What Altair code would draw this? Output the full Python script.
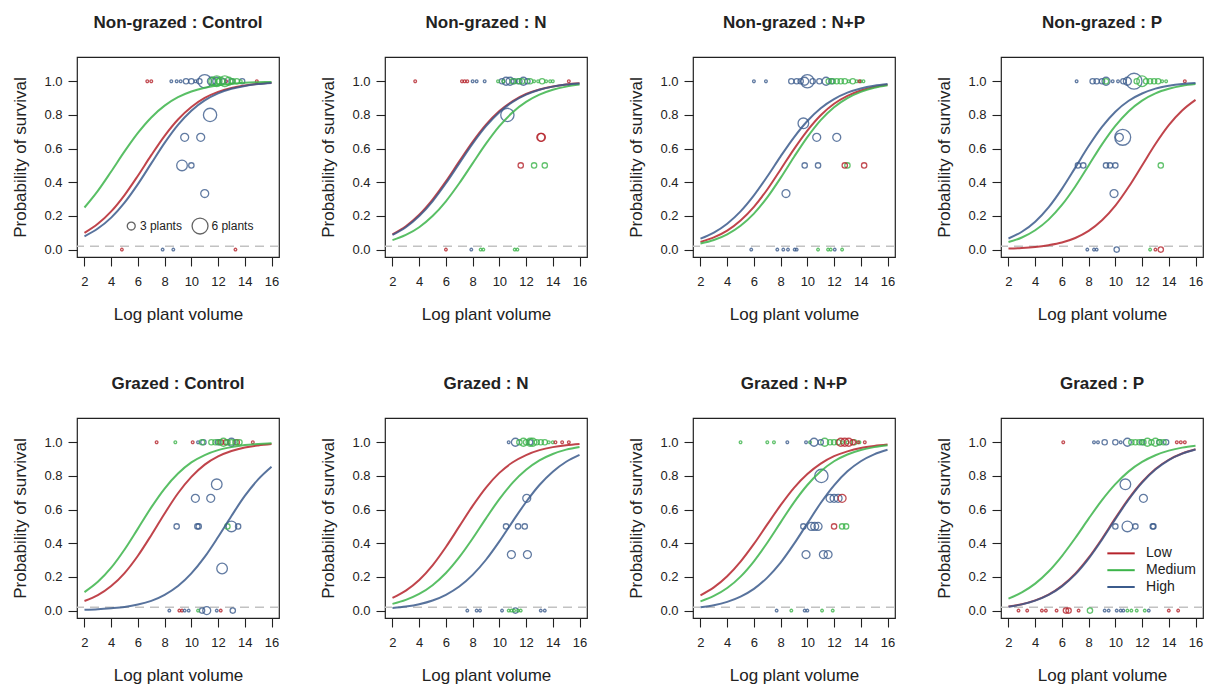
import altair as alt

# x positions at which each fitted survival curve is tabulated
CURVE_X = list(range(2, 17))
X_TICKS = [2, 4, 6, 8, 10, 12, 14, 16]
Y_TICKS = [0.0, 0.2, 0.4, 0.6, 0.8, 1.0]

GROUPS = ["Low", "Medium", "High"]
COLORS = ["#b5232b", "#3cb44a", "#3b5b8c"]
GROUP_CODE = {"L": "Low", "M": "Medium", "H": "High"}

PANELS = [
    "Non-grazed : Control", "Non-grazed : N", "Non-grazed : N+P", "Non-grazed : P",
    "Grazed : Control", "Grazed : N", "Grazed : N+P", "Grazed : P",
]

# fitted probability of survival at each CURVE_X value
CURVES = {
    "Non-grazed : Control": {
        "Low":    [0.099, 0.153, 0.227, 0.324, 0.439, 0.561, 0.676, 0.773, 0.847, 0.901, 0.937, 0.960, 0.975, 0.985, 0.991],
        "Medium": [0.250, 0.349, 0.464, 0.583, 0.693, 0.785, 0.855, 0.905, 0.939, 0.961, 0.976, 0.985, 0.991, 0.994, 0.996],
        "High":   [0.079, 0.125, 0.190, 0.279, 0.389, 0.512, 0.634, 0.741, 0.825, 0.886, 0.928, 0.955, 0.972, 0.983, 0.990],
    },
    "Non-grazed : N": {
        "Low":    [0.091, 0.139, 0.207, 0.297, 0.405, 0.524, 0.640, 0.742, 0.823, 0.882, 0.924, 0.951, 0.969, 0.981, 0.988],
        "Medium": [0.056, 0.087, 0.133, 0.199, 0.287, 0.394, 0.512, 0.629, 0.733, 0.816, 0.877, 0.920, 0.949, 0.968, 0.980],
        "High":   [0.087, 0.133, 0.199, 0.287, 0.394, 0.512, 0.629, 0.733, 0.816, 0.877, 0.920, 0.949, 0.968, 0.980, 0.987],
    },
    "Non-grazed : N+P": {
        "Low":    [0.046, 0.073, 0.113, 0.173, 0.254, 0.357, 0.476, 0.597, 0.707, 0.798, 0.866, 0.913, 0.945, 0.966, 0.979],
        "Medium": [0.036, 0.057, 0.091, 0.142, 0.214, 0.310, 0.426, 0.550, 0.668, 0.769, 0.846, 0.900, 0.937, 0.961, 0.976],
        "High":   [0.065, 0.101, 0.154, 0.227, 0.322, 0.434, 0.554, 0.667, 0.764, 0.840, 0.894, 0.932, 0.957, 0.973, 0.983],
    },
    "Non-grazed : P": {
        "Low":    [0.006, 0.009, 0.015, 0.026, 0.042, 0.069, 0.111, 0.174, 0.261, 0.373, 0.500, 0.627, 0.739, 0.826, 0.889],
        "Medium": [0.045, 0.072, 0.115, 0.178, 0.265, 0.375, 0.500, 0.625, 0.735, 0.822, 0.885, 0.928, 0.955, 0.973, 0.983],
        "High":   [0.066, 0.106, 0.166, 0.251, 0.361, 0.487, 0.615, 0.729, 0.819, 0.884, 0.927, 0.956, 0.973, 0.984, 0.990],
    },
    "Grazed : Control": {
        "Low":    [0.057, 0.092, 0.146, 0.223, 0.326, 0.448, 0.577, 0.697, 0.794, 0.867, 0.916, 0.948, 0.969, 0.981, 0.989],
        "Medium": [0.110, 0.171, 0.255, 0.363, 0.487, 0.613, 0.725, 0.814, 0.880, 0.924, 0.953, 0.971, 0.983, 0.989, 0.994],
        "High":   [0.005, 0.008, 0.014, 0.022, 0.036, 0.058, 0.094, 0.146, 0.221, 0.319, 0.437, 0.562, 0.681, 0.779, 0.854],
    },
    "Grazed : N": {
        "Low":    [0.076, 0.119, 0.182, 0.269, 0.378, 0.500, 0.622, 0.731, 0.818, 0.881, 0.924, 0.953, 0.971, 0.982, 0.989],
        "Medium": [0.040, 0.064, 0.099, 0.151, 0.223, 0.317, 0.428, 0.548, 0.662, 0.760, 0.836, 0.892, 0.930, 0.956, 0.972],
        "High":   [0.015, 0.024, 0.038, 0.060, 0.094, 0.143, 0.212, 0.302, 0.411, 0.530, 0.645, 0.746, 0.825, 0.884, 0.925],
    },
    "Grazed : N+P": {
        "Low":    [0.091, 0.138, 0.204, 0.291, 0.396, 0.512, 0.626, 0.729, 0.811, 0.873, 0.917, 0.946, 0.966, 0.978, 0.986],
        "Medium": [0.055, 0.087, 0.134, 0.202, 0.293, 0.403, 0.524, 0.643, 0.746, 0.827, 0.887, 0.927, 0.954, 0.971, 0.982],
        "High":   [0.020, 0.032, 0.052, 0.083, 0.129, 0.196, 0.285, 0.396, 0.518, 0.639, 0.744, 0.827, 0.887, 0.928, 0.955],
    },
    "Grazed : P": {
        "Low":    [0.024, 0.038, 0.061, 0.095, 0.147, 0.219, 0.314, 0.427, 0.549, 0.665, 0.764, 0.841, 0.896, 0.933, 0.958],
        "Medium": [0.071, 0.108, 0.160, 0.232, 0.324, 0.431, 0.546, 0.656, 0.751, 0.827, 0.883, 0.923, 0.950, 0.968, 0.979],
        "High":   [0.023, 0.037, 0.059, 0.093, 0.144, 0.215, 0.309, 0.421, 0.543, 0.660, 0.760, 0.838, 0.894, 0.932, 0.957],
    },
}

# observed plots: (group, log plant volume, proportion surviving, number of plants)
POINTS = {
    "Non-grazed : Control": [
        ("L", 6.7, 1, 1), ("L", 7.0, 1, 1), ("L", 12.6, 1, 1), ("L", 14.9, 1, 1), ("L", 4.8, 0, 1), ("L", 13.3, 0, 1),
        ("H", 8.5, 1, 1), ("H", 8.9, 1, 1), ("H", 9.2, 1, 1), ("H", 9.6, 1, 2), ("H", 10.0, 1, 2), ("H", 10.3, 1, 1),
        ("H", 10.6, 1, 2), ("H", 11.0, 1, 5), ("H", 11.5, 1, 3), ("H", 11.9, 1, 3), ("H", 12.4, 1, 2), ("H", 13.0, 1, 2),
        ("H", 13.8, 1, 2), ("H", 9.5, 0.667, 3), ("H", 10.7, 0.667, 3), ("H", 9.3, 0.5, 4), ("H", 10.0, 0.5, 2),
        ("H", 11.0, 0.333, 3), ("H", 11.4, 0.8, 5), ("H", 7.85, 0, 1), ("H", 8.65, 0, 1),
        ("M", 11.6, 1, 3), ("M", 11.9, 1, 4), ("M", 12.2, 1, 3), ("M", 12.5, 1, 4), ("M", 12.8, 1, 3), ("M", 13.1, 1, 2),
        ("M", 13.4, 1, 2), ("M", 13.7, 1, 1), ("M", 12.0, 1, 2),
    ],
    "Non-grazed : N": [
        ("L", 3.7, 1, 1), ("L", 7.2, 1, 1), ("L", 7.4, 1, 1), ("L", 7.6, 1, 1), ("L", 15.2, 1, 1),
        ("L", 13.1, 0.667, 3), ("L", 13.15, 0.667, 3), ("L", 11.6, 0.5, 2), ("L", 6.0, 0, 1),
        ("H", 8.0, 1, 1), ("H", 8.3, 1, 1), ("H", 8.9, 1, 1), ("H", 10.2, 1, 2), ("H", 10.5, 1, 3), ("H", 10.8, 1, 3),
        ("H", 11.1, 1, 2), ("H", 11.5, 1, 2), ("H", 11.8, 1, 3), ("H", 12.1, 1, 2), ("H", 10.6, 0.8, 5), ("H", 7.9, 0, 1),
        ("M", 9.9, 1, 1), ("M", 10.3, 1, 1), ("M", 11.0, 1, 2), ("M", 11.4, 1, 2), ("M", 11.7, 1, 2), ("M", 12.3, 1, 2),
        ("M", 12.6, 1, 1), ("M", 12.9, 1, 1), ("M", 13.2, 1, 2), ("M", 13.5, 1, 1), ("M", 13.8, 1, 1), ("M", 14.0, 1, 1),
        ("M", 12.6, 0.5, 2), ("M", 13.4, 0.5, 2), ("M", 8.6, 0, 1), ("M", 8.8, 0, 1), ("M", 11.15, 0, 1), ("M", 11.35, 0, 1),
    ],
    "Non-grazed : N+P": [
        ("H", 6.0, 1, 1), ("H", 6.9, 1, 1), ("H", 8.8, 1, 2), ("H", 9.2, 1, 2), ("H", 9.5, 1, 2), ("H", 9.8, 1, 3),
        ("H", 10.0, 1, 5), ("H", 10.4, 1, 2), ("H", 10.9, 1, 2), ("H", 11.4, 1, 3), ("H", 11.8, 1, 2),
        ("H", 9.7, 0.75, 4), ("H", 10.7, 0.667, 3), ("H", 12.2, 0.667, 3), ("H", 9.8, 0.5, 2), ("H", 10.8, 0.5, 2),
        ("H", 8.4, 0.333, 3), ("H", 5.8, 0, 1), ("H", 7.75, 0, 1), ("H", 8.2, 0, 1), ("H", 8.55, 0, 1), ("H", 9.05, 0, 1),
        ("H", 9.2, 0, 1), ("H", 12.05, 0, 1),
        ("M", 11.6, 1, 2), ("M", 11.9, 1, 2), ("M", 12.2, 1, 2), ("M", 12.5, 1, 2), ("M", 12.8, 1, 2), ("M", 13.1, 1, 1),
        ("M", 13.4, 1, 2), ("M", 13.7, 1, 1), ("M", 14.0, 1, 1), ("M", 14.2, 1, 1), ("M", 13.0, 0.5, 2),
        ("M", 10.8, 0, 1), ("M", 11.55, 0, 1), ("M", 11.75, 0, 1), ("M", 12.6, 0, 1),
        ("L", 12.8, 0.5, 2), ("L", 14.25, 0.5, 2), ("L", 13.9, 1, 1),
    ],
    "Non-grazed : P": [
        ("H", 7.1, 1, 1), ("H", 8.3, 1, 2), ("H", 8.6, 1, 2), ("H", 9.0, 1, 2), ("H", 9.3, 1, 3), ("H", 9.8, 1, 1),
        ("H", 10.2, 1, 1), ("H", 10.6, 1, 2), ("H", 10.9, 1, 3), ("H", 11.4, 1, 6), ("H", 10.55, 0.667, 6),
        ("H", 10.3, 0.667, 3), ("H", 7.2, 0.5, 2), ("H", 7.6, 0.5, 2), ("H", 9.3, 0.5, 2), ("H", 9.6, 0.5, 2),
        ("H", 10.0, 0.5, 2), ("H", 9.9, 0.333, 3), ("H", 7.9, 0, 1), ("H", 8.4, 0, 1), ("H", 8.6, 0, 1), ("H", 10.1, 0, 2),
        ("M", 9.3, 1, 2), ("M", 11.6, 1, 2), ("M", 12.0, 1, 4), ("M", 12.3, 1, 2), ("M", 12.6, 1, 2), ("M", 12.9, 1, 2),
        ("M", 13.2, 1, 2), ("M", 13.5, 1, 1), ("M", 13.8, 1, 1), ("M", 13.4, 0.5, 2), ("M", 12.6, 0, 1),
        ("L", 15.2, 1, 1), ("L", 13.0, 0, 1), ("L", 13.4, 0, 2),
    ],
    "Grazed : Control": [
        ("L", 7.4, 1, 1), ("L", 10.1, 1, 1), ("L", 12.2, 1, 2), ("L", 12.6, 1, 2), ("L", 13.4, 1, 2), ("L", 14.6, 1, 1),
        ("L", 9.1, 0, 1), ("L", 9.3, 0, 1), ("L", 12.2, 0, 1),
        ("H", 10.5, 1, 1), ("H", 10.9, 1, 2), ("H", 12.0, 1, 2), ("H", 13.0, 1, 3), ("H", 11.9, 0.75, 4),
        ("H", 10.3, 0.667, 3), ("H", 11.45, 0.667, 3), ("H", 8.9, 0.5, 2), ("H", 10.45, 0.5, 2), ("H", 10.55, 0.5, 2),
        ("H", 13.0, 0.5, 4), ("H", 13.5, 0.5, 2), ("H", 12.3, 0.25, 4), ("H", 8.35, 0, 1), ("H", 9.5, 0, 1),
        ("H", 9.8, 0, 1), ("H", 10.8, 0, 2), ("H", 11.15, 0, 3), ("H", 11.9, 0, 1), ("H", 13.1, 0, 2),
        ("M", 8.8, 1, 1), ("M", 10.8, 1, 2), ("M", 11.5, 1, 2), ("M", 11.8, 1, 2), ("M", 12.1, 1, 2), ("M", 12.4, 1, 3),
        ("M", 12.7, 1, 2), ("M", 13.0, 1, 2), ("M", 13.3, 1, 2), ("M", 13.6, 1, 2), ("M", 12.7, 0.5, 2), ("M", 10.5, 0, 1),
    ],
    "Grazed : N": [
        ("H", 10.7, 1, 1), ("H", 11.2, 1, 3), ("H", 12.3, 1, 2), ("H", 12.05, 0.667, 3), ("H", 10.5, 0.5, 2),
        ("H", 11.4, 0.5, 2), ("H", 11.9, 0.5, 2), ("H", 10.9, 0.333, 3), ("H", 12.1, 0.333, 3), ("H", 7.6, 0, 1),
        ("H", 8.3, 0, 1), ("H", 8.55, 0, 1), ("H", 10.2, 0, 1), ("H", 11.2, 0, 2), ("H", 13.1, 0, 1), ("H", 13.4, 0, 1),
        ("M", 11.5, 1, 2), ("M", 11.8, 1, 3), ("M", 12.0, 1, 2), ("M", 12.3, 1, 3), ("M", 12.5, 1, 3), ("M", 12.8, 1, 2),
        ("M", 13.1, 1, 2), ("M", 13.4, 1, 2), ("M", 13.7, 1, 1), ("M", 14.0, 1, 1), ("M", 10.7, 0, 1), ("M", 10.9, 0, 1),
        ("M", 11.1, 0, 1), ("M", 11.4, 0, 1), ("M", 11.6, 0, 1),
        ("L", 14.2, 1, 1), ("L", 14.7, 1, 1), ("L", 15.2, 1, 1),
    ],
    "Grazed : N+P": [
        ("M", 5.0, 1, 1), ("M", 7.0, 1, 1), ("M", 7.5, 1, 1), ("M", 10.2, 1, 1), ("M", 11.3, 1, 3), ("M", 11.7, 1, 2),
        ("M", 12.0, 1, 2), ("M", 12.3, 1, 2), ("M", 12.6, 1, 1), ("M", 13.0, 1, 1), ("M", 13.5, 1, 2), ("M", 13.9, 1, 1),
        ("M", 12.6, 0.5, 2), ("M", 12.9, 0.5, 2), ("M", 8.8, 0, 1), ("M", 11.1, 0, 1), ("M", 11.9, 0, 1),
        ("H", 8.5, 1, 1), ("H", 9.9, 1, 1), ("H", 10.5, 1, 3), ("H", 11.0, 1, 2), ("H", 11.05, 0.8, 5),
        ("H", 11.7, 0.667, 3), ("H", 12.0, 0.667, 3), ("H", 12.3, 0.667, 3), ("H", 9.7, 0.5, 2), ("H", 10.3, 0.5, 3),
        ("H", 10.55, 0.5, 3), ("H", 10.8, 0.5, 3), ("H", 9.9, 0.333, 3), ("H", 11.2, 0.333, 3), ("H", 11.55, 0.333, 3),
        ("H", 7.7, 0, 1), ("H", 9.8, 0, 1), ("H", 10.0, 0, 1),
        ("L", 12.5, 1, 3), ("L", 12.8, 1, 3), ("L", 13.1, 1, 3), ("L", 13.4, 1, 2), ("L", 13.8, 1, 1), ("L", 14.3, 1, 1),
        ("L", 12.6, 0.667, 3), ("L", 12.0, 0.5, 2),
    ],
    "Grazed : P": [
        ("L", 6.1, 1, 1), ("L", 14.6, 1, 1), ("L", 14.9, 1, 1), ("L", 15.2, 1, 1), ("L", 2.75, 0, 1), ("L", 3.4, 0, 1),
        ("L", 4.5, 0, 1), ("L", 4.8, 0, 1), ("L", 5.6, 0, 1), ("L", 6.3, 0, 2), ("L", 6.5, 0, 2), ("L", 7.25, 0, 1),
        ("L", 14.0, 0, 1), ("L", 14.7, 0, 1),
        ("H", 8.4, 1, 1), ("H", 8.7, 1, 1), ("H", 9.2, 1, 2), ("H", 10.0, 1, 2), ("H", 10.4, 1, 1), ("H", 10.9, 1, 3),
        ("H", 12.0, 1, 2), ("H", 13.3, 1, 2), ("H", 13.8, 1, 2), ("H", 10.75, 0.75, 4), ("H", 12.1, 0.667, 3),
        ("H", 10.0, 0.5, 2), ("H", 10.9, 0.5, 4), ("H", 11.5, 0.5, 2), ("H", 12.8, 0.5, 2), ("H", 12.85, 0.5, 2),
        ("H", 9.2, 0, 1), ("H", 9.5, 0, 1), ("H", 10.1, 0, 1), ("H", 10.4, 0, 1), ("H", 10.6, 0, 1), ("H", 12.5, 0, 1),
        ("M", 11.2, 1, 2), ("M", 11.5, 1, 2), ("M", 11.8, 1, 2), ("M", 12.1, 1, 2), ("M", 12.4, 1, 3), ("M", 12.7, 1, 2),
        ("M", 13.0, 1, 3), ("M", 13.3, 1, 2), ("M", 13.6, 1, 2), ("M", 8.1, 0, 2), ("M", 10.9, 0, 1), ("M", 11.2, 0, 1),
        ("M", 11.6, 0, 1), ("M", 12.2, 0, 1),
    ],
}

# reference line just above zero survival
ZERO_LINE = 0.02

# plot-size key (first panel): circle x, label x, y, plants
SIZE_KEY_X = [5.5, 10.65]
SIZE_KEY_LABEL_X = [6.15, 11.5]
SIZE_KEY_Y = 0.14
SIZE_KEY_N = [3, 6]
SIZE_KEY_TEXT = ["3 plants", "6 plants"]

# nutrient-level key (last panel)
KEY_X1, KEY_X2, KEY_LABEL_X = 9.4, 11.45, 12.3
KEY_Y = [0.34, 0.24, 0.14]

FONT = "Liberation Sans"
INK = "#222222"

xs = alt.Scale(domain=[1.44, 16.56], nice=False, zero=False)
ys = alt.Scale(domain=[-0.044, 1.144], nice=False, zero=False)
color = alt.Color("group:N", scale=alt.Scale(domain=GROUPS, range=COLORS), legend=None)
size = alt.Size("n:Q", scale=alt.Scale(type="pow", exponent=2, domain=[0, 6], range=[0, 254]), legend=None)

x_axis = alt.Axis(values=X_TICKS, title="Log plant volume", labelPadding=9, titlePadding=18)
y_axis = alt.Axis(values=Y_TICKS, format=".1f", title="Probability of survival", labelPadding=6, titlePadding=14)


def X(field="x"):
    return alt.X(field, type="quantitative", scale=xs, axis=x_axis)


def Y(field="y"):
    return alt.Y(field, type="quantitative", scale=ys, axis=y_axis)


def panel(name, size_key=False, group_key=False):
    curve_rows = [
        {"x": x, "y": p, "group": g}
        for g in GROUPS
        for x, p in zip(CURVE_X, CURVES[name][g])
    ]
    point_rows = [
        {"x": x, "y": y, "n": n, "group": GROUP_CODE[c]}
        for c, x, y, n in POINTS[name]
    ]

    zero = alt.Chart(alt.Data(values=[{"y": ZERO_LINE}])).mark_rule(
        color="#c2c2c2", strokeDash=[9, 6], strokeWidth=1.3
    ).encode(y=Y())

    pts = alt.Chart(alt.Data(values=point_rows)).mark_point(
        shape="circle", filled=False, strokeWidth=1.3, opacity=0.8
    ).encode(x=X(), y=Y(), color=color, size=size)

    lines = alt.Chart(alt.Data(values=curve_rows)).mark_line(
        interpolate="monotone", strokeWidth=2, opacity=0.85
    ).encode(x=X(), y=Y(), color=color)

    layers = [zero, pts, lines]

    if size_key:
        key_rows = [
            {"x": x, "lx": lx, "y": SIZE_KEY_Y, "n": n, "label": t}
            for x, lx, n, t in zip(SIZE_KEY_X, SIZE_KEY_LABEL_X, SIZE_KEY_N, SIZE_KEY_TEXT)
        ]
        key_data = alt.Data(values=key_rows)
        layers.append(
            alt.Chart(key_data).mark_point(shape="circle", filled=False, strokeWidth=1.3, color=INK)
            .encode(x=X(), y=Y(), size=size)
        )
        layers.append(
            alt.Chart(key_data).mark_text(align="left", baseline="middle", fontSize=12, font=FONT, color=INK)
            .encode(x=X("lx"), y=Y(), text="label:N")
        )

    if group_key:
        key_rows = [
            {"x": KEY_X1, "x2": KEY_X2, "lx": KEY_LABEL_X, "y": y, "group": g}
            for g, y in zip(GROUPS, KEY_Y)
        ]
        key_data = alt.Data(values=key_rows)
        layers.append(
            alt.Chart(key_data).mark_rule(strokeWidth=2)
            .encode(x=X(), x2="x2:Q", y=Y(), color=color)
        )
        layers.append(
            alt.Chart(key_data).mark_text(align="left", baseline="middle", fontSize=14, font=FONT, color=INK)
            .encode(x=X("lx"), y=Y(), text="group:N")
        )

    return alt.layer(*layers).properties(
        width=202,
        height=200,
        title=alt.TitleParams(name, fontSize=17, fontWeight="bold", font=FONT, color=INK,
                              anchor="middle", offset=25),
    )


top = alt.hconcat(
    *[panel(n, size_key=(i == 0)) for i, n in enumerate(PANELS[:4])], spacing=38
)
bottom = alt.hconcat(
    *[panel(n, group_key=(i == 3)) for i, n in enumerate(PANELS[4:])], spacing=38
)

chart = alt.vconcat(top, bottom, spacing=51).properties(
    padding={"left": 11, "top": 13, "right": 0, "bottom": 0},
    background="white",
).configure_view(
    stroke=INK, strokeWidth=1.2
).configure_axis(
    grid=False, domain=False, tickColor=INK, tickSize=9, tickWidth=1.1,
    labelFont=FONT, labelFontSize=13, labelColor=INK,
    titleFont=FONT, titleFontSize=17, titleFontWeight="normal", titleColor=INK,
).configure_concat(spacing=38)

chart.save("out.html", embed_options={"renderer": "svg", "actions": False})
